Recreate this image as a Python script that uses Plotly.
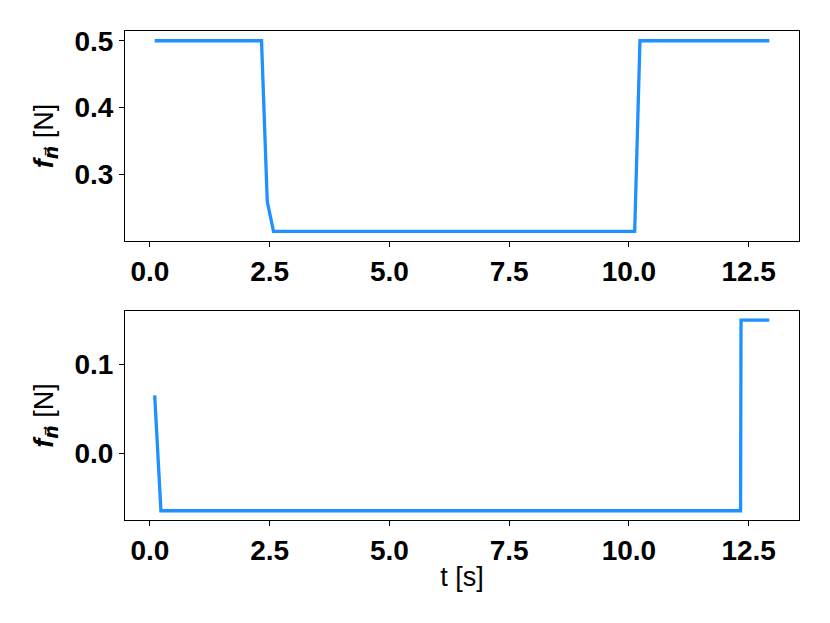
import plotly.graph_objects as go
from plotly.subplots import make_subplots

# top panel: normal force component
t_top = [0.1, 2.33, 2.45, 2.58, 10.12, 10.23, 12.93]
f_top = [0.5, 0.5, 0.259, 0.2145, 0.2145, 0.5, 0.5]

# bottom panel
t_bot = [0.1, 0.23, 12.33, 12.34, 12.93]
f_bot = [0.065, -0.0643, -0.0643, 0.1495, 0.1495]

LINE_COLOR = "#1E90FF"
FONT = "Liberation Sans, Arial, sans-serif"
TICK_FONT = dict(family=FONT, size=28, color="black", weight="bold")

fig = make_subplots(rows=2, cols=1, vertical_spacing=0.14)

fig.add_trace(go.Scatter(x=t_top, y=f_top, mode="lines",
                         line=dict(color=LINE_COLOR, width=3.3)), row=1, col=1)
fig.add_trace(go.Scatter(x=t_bot, y=f_bot, mode="lines",
                         line=dict(color=LINE_COLOR, width=3.3)), row=2, col=1)

axis_style = dict(showline=True, linecolor="black", linewidth=1, mirror=True,
                  ticks="outside", ticklen=5, tickcolor="black", showgrid=False,
                  zeroline=False, tickfont=TICK_FONT)

ylabel = ("<b><i>f</i></b><sub><span style=\"font-family:'DejaVu Sans'\"><b><i>n\u20d7</i></b></span></sub>"
          " [N]")
title_font = dict(family=FONT, size=27, color="black")

fig.update_xaxes(axis_style)
fig.update_yaxes(axis_style)
fig.update_xaxes(range=[-0.52, 13.55], dtick=2.5, tick0=0, tickformat=".1f")
fig.update_yaxes(range=[0.2, 0.5146], tickvals=[0.3, 0.4, 0.5], tickformat=".1f",
                 title=dict(text=ylabel, font=title_font, standoff=13),
                 row=1, col=1)
fig.update_yaxes(range=[-0.0747, 0.1597], tickvals=[0.0, 0.1], tickformat=".1f",
                 title=dict(text=ylabel, font=title_font, standoff=13),
                 row=2, col=1)
fig.update_xaxes(title=dict(text="t [s]", font=title_font, standoff=2),
                 row=2, col=1)

fig.update_layout(
    width=830, height=623,
    margin=dict(l=117, r=39, t=23, b=111),
    plot_bgcolor="white", paper_bgcolor="white",
    showlegend=False,
)
fig.layout.yaxis.domain = [0.5706, 1.0]
fig.layout.yaxis2.domain = [0.0, 0.4274]

fig.write_html("out.html")
